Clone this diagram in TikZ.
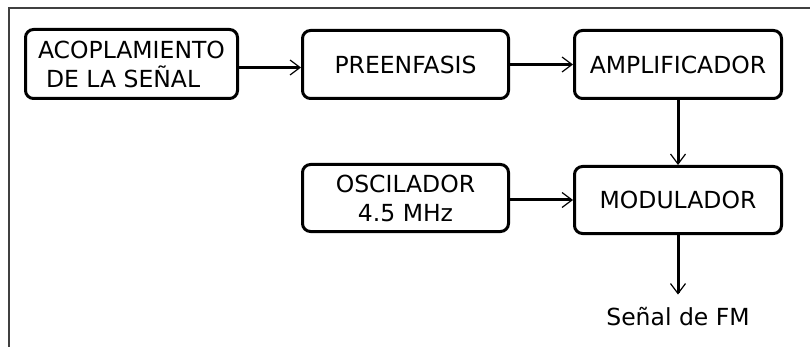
\documentclass[tikz,border=0pt]{standalone}
\usepackage{fontspec}
\setmainfont{DejaVu Sans}
\usetikzlibrary{arrows.meta}
\begin{document}
\begin{tikzpicture}[x=1pt,y=-1pt,
  blk/.style={draw=black, line width=3pt, rounded corners=8pt, align=center,
    inner sep=0pt, font=\fontsize{23.5}{29}\selectfont},
  conn/.style={line width=3pt, -{Straight Barb[length=10pt,width=15pt,line width=1.2pt]}},
  lbl/.style={inner sep=0pt, font=\fontsize{23.5}{29}\selectfont}
]
\useasboundingbox (0,0) rectangle (810,347);
\fill[white] (0,0) rectangle (810,347);
\draw[line width=2pt, black!75] (9,347) -- (9,8) -- (810,8);

\node[blk, minimum width=212pt, minimum height=69pt, align=left] (b1) at (131.5,64)
  {ACOPLAMIENTO\\\hspace*{8pt}DE LA SEÑAL};
\node[blk, minimum width=206pt, minimum height=68pt] (b2) at (405.5,64.5)
  {\raisebox{-5pt}{PREENFASIS}};
\node[blk, minimum width=207pt, minimum height=68pt] (b3) at (678,64.5)
  {\raisebox{-3pt}{AMPLIFICADOR}};
\node[blk, minimum width=206pt, minimum height=67pt] (b4) at (405.5,198)
  {OSCILADOR\\4.5 MHz};
\node[blk, minimum width=207pt, minimum height=67pt] (b5) at (678,200)
  {MODULADOR};
\node[lbl, anchor=base] (out) at (678,325) {Señal de FM};

\draw[conn] ([yshift=-3.5pt]b1.east) -- ([yshift=-3.5pt]b1.east -| b2.west);
\draw[conn] (b2.east) -- (b3.west);
\draw[conn] (b3.south) -- (b5.north);
\draw[conn] (b4.east |- b5.west) -- (b5.west);
\draw[conn] (b5.south) -- ([yshift=12pt]out.north);
\end{tikzpicture}
\end{document}
